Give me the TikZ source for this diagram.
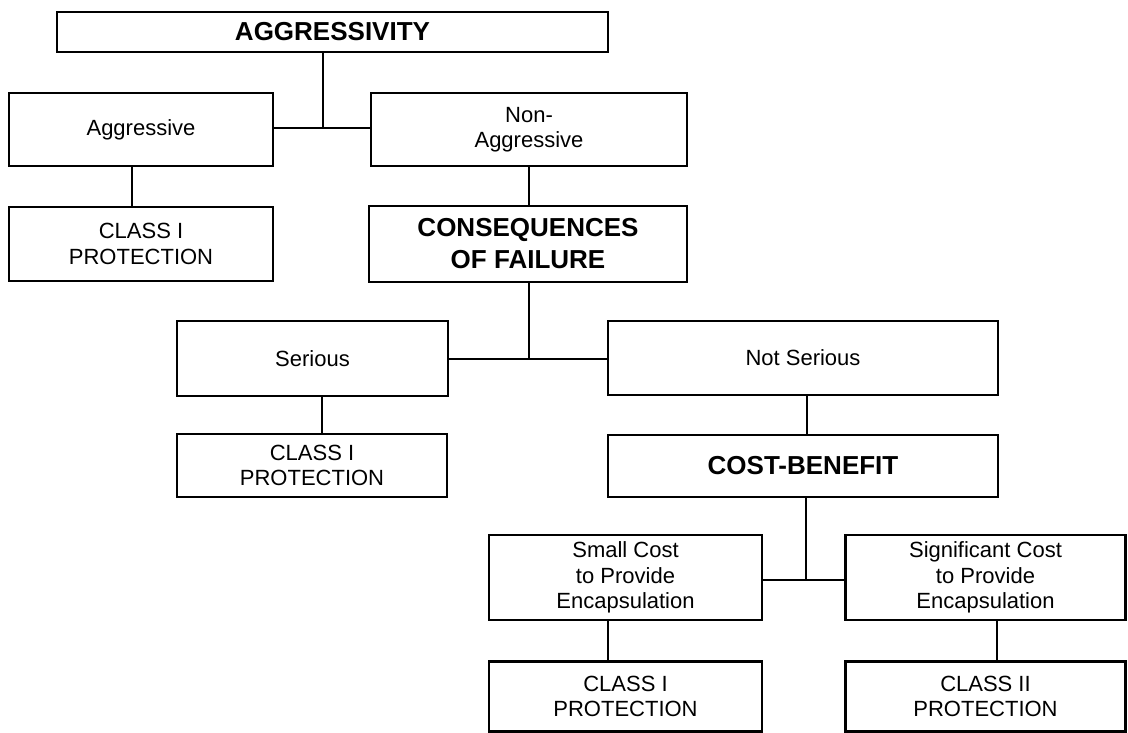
\documentclass[tikz,border=0pt]{standalone}
\usepackage{fontspec}
\setmainfont{Liberation Sans}
\begin{document}
\begin{tikzpicture}[x=1pt,y=-1pt,
  box/.style={draw,line width=2.8pt,inner sep=0pt,align=center,
    font=\fontsize{22}{25.5}\selectfont},
  headbox/.style={box,font=\fontsize{26}{32}\selectfont\bfseries},
  link/.style={line width=2.8pt}]
\useasboundingbox (0,0) rectangle (1128,733);
% level 1
\node[headbox,minimum width=551pt,minimum height=40pt] (agg) at (332.5,32) {AGGRESSIVITY};
\node[box,minimum width=264pt,minimum height=73pt] (aggr) at (141,129.5) {Aggressive};
\node[box,minimum width=316pt,minimum height=73pt] (nonagg) at (529,129.5) {Non-\\Aggressive};
\node[box,minimum width=264pt,minimum height=74pt] (c1a) at (141,244) {CLASS I\\PROTECTION};
% level 2
\node[headbox,minimum width=318pt,minimum height=76pt] (conseq) at (528,244) {CONSEQUENCES\\OF FAILURE};
\node[box,minimum width=271pt,minimum height=75pt] (ser) at (312.5,358.5) {Serious};
\node[box,minimum width=390pt,minimum height=74pt] (notser) at (803,358) {Not Serious};
\node[box,minimum width=270pt,minimum height=63pt] (c1b) at (312,465.5) {CLASS I\\PROTECTION};
% level 3
\node[headbox,minimum width=390pt,minimum height=62pt] (cb) at (803,466) {COST-BENEFIT};
\node[box,minimum width=273pt,minimum height=85pt] (small) at (625.5,577.5) {Small Cost\\to Provide\\Encapsulation};
\node[box,minimum width=280pt,minimum height=85pt] (sig) at (985.5,577.5) {Significant Cost\\to Provide\\Encapsulation};
\node[box,minimum width=273pt,minimum height=70pt] (c1c) at (625.5,696.5) {CLASS I\\PROTECTION};
\node[box,minimum width=280pt,minimum height=70pt] (c2) at (985.5,696.5) {CLASS II\\PROTECTION};
% junctions
\coordinate (j1) at (323,128);
\coordinate (j2) at (529,359);
\coordinate (j3) at (806,580);
% connectors
\draw[link] (agg.south -| j1) -- (j1);
\draw[link] (aggr.east |- j1) -- (nonagg.west |- j1);
\draw[link] ([xshift=-9pt]aggr.south) -- ([xshift=-9pt]c1a.north);
\draw[link] (nonagg.south) -- (nonagg.south |- conseq.north);
\draw[link] (conseq.south -| j2) -- (j2);
\draw[link] (ser.east |- j2) -- (notser.west |- j2);
\draw[link] ([xshift=9.5pt]ser.south) -- ([xshift=9.5pt]ser.south |- c1b.north);
\draw[link] ([xshift=4pt]notser.south) -- ([xshift=4pt]cb.north);
\draw[link] (cb.south -| j3) -- (j3);
\draw[link] (small.east |- j3) -- (sig.west |- j3);
\draw[link] ([xshift=-17.5pt]small.south) -- ([xshift=-17.5pt]c1c.north);
\draw[link] ([xshift=11.5pt]sig.south) -- ([xshift=11.5pt]c2.north);
\end{tikzpicture}
\end{document}
